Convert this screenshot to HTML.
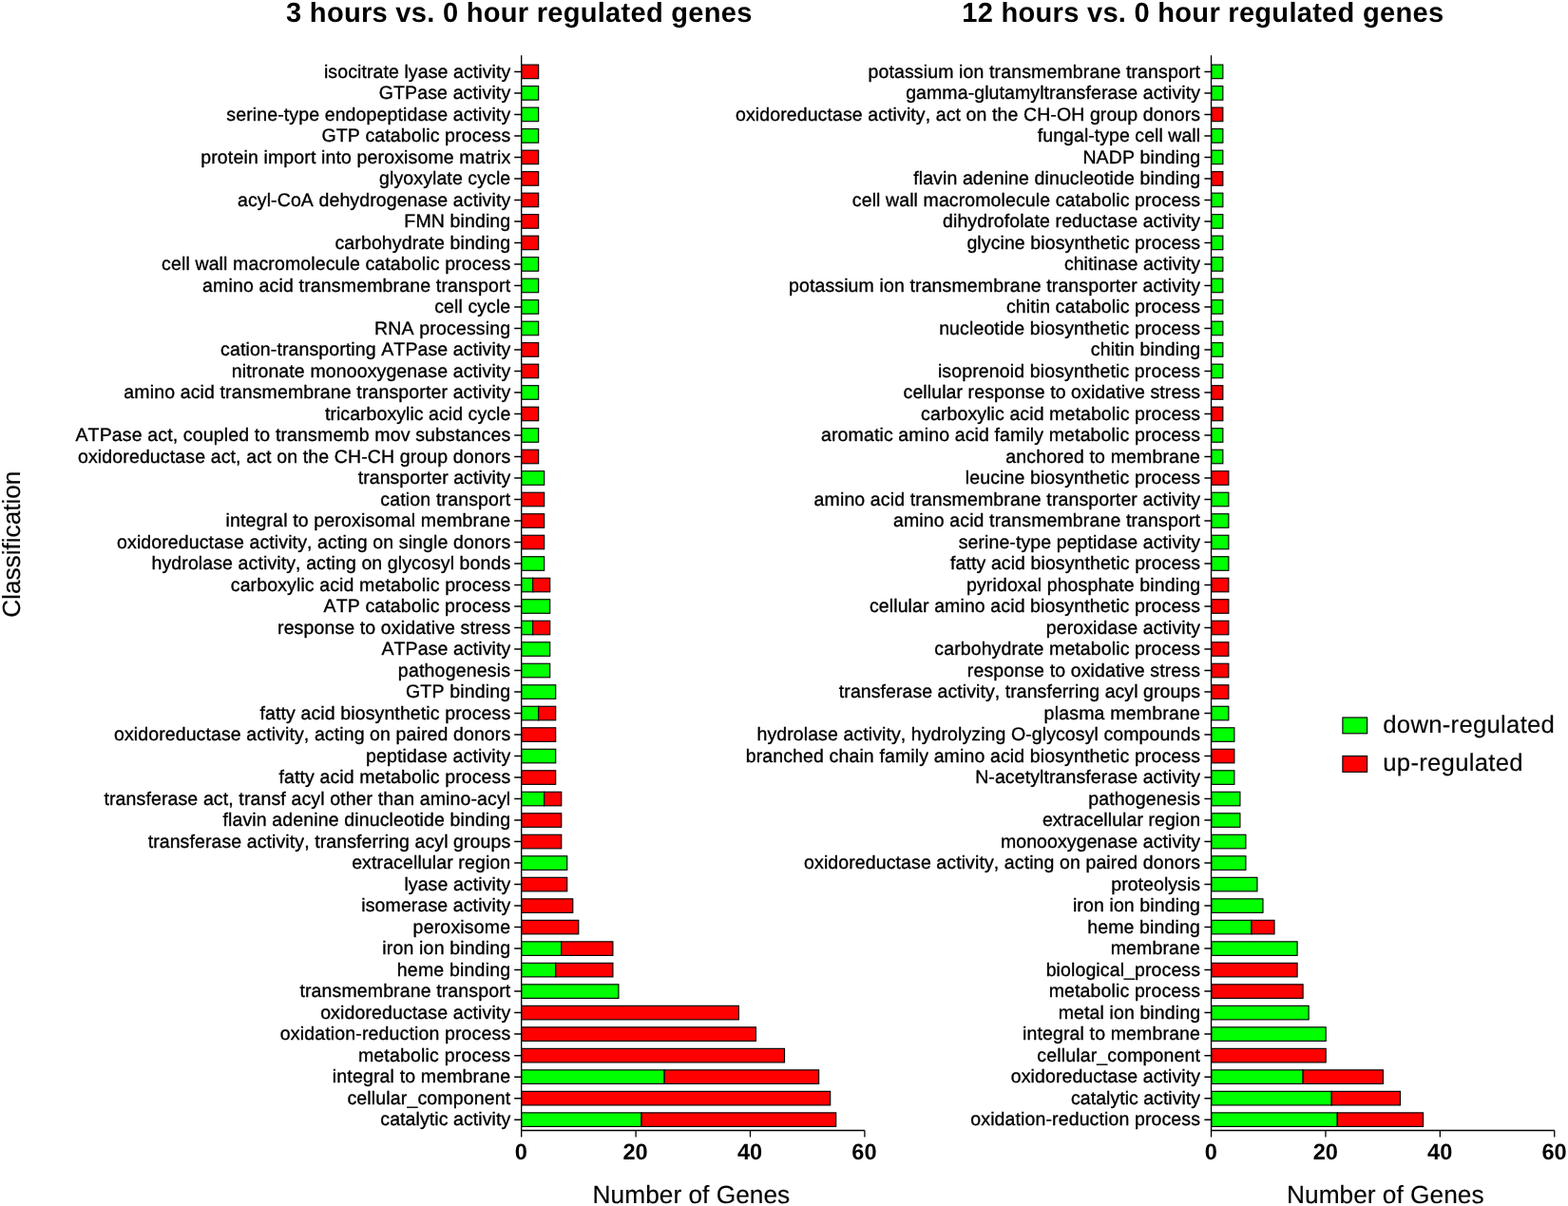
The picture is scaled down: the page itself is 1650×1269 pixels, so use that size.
<!DOCTYPE html>
<html lang="en">
<head>
<meta charset="utf-8">
<title>Regulated genes – GO classification</title>
<style>
html,body{margin:0;padding:0;background:#fff;}
body{width:1650px;height:1269px;overflow:hidden;font-family:"Liberation Sans",sans-serif;}
svg{display:block;position:absolute;left:0;top:0;filter:blur(0.4px);}
text{font-family:"Liberation Sans",sans-serif;fill:#000;font-kerning:none;text-rendering:geometricPrecision;}
.g{fill:#00ff00;stroke:#000;stroke-width:1.15;}
.r{fill:#ff0000;stroke:#000;stroke-width:1.15;}
.ax{fill:none;stroke:#000;stroke-width:1.3;}
.yt{fill:none;stroke:#000;stroke-width:1.5;}
.lab text{font-size:19.5px;text-anchor:end;letter-spacing:0.14px;stroke:#000;stroke-width:0.35px;}
.tk text{font-size:23.6px;font-weight:bold;text-anchor:middle;}
.title{font-size:29.1px;font-weight:bold;text-anchor:middle;letter-spacing:0.26px;}
.xl{font-size:26.3px;text-anchor:middle;stroke:#000;stroke-width:0.15px;}
.yl{font-size:26.2px;text-anchor:middle;stroke:#000;stroke-width:0.15px;}
.leg{font-size:25.7px;letter-spacing:0.27px;stroke:#000;stroke-width:0.15px;}
</style>
</head>
<body>
<svg width="1650" height="1269" viewBox="0 0 1650 1269">
<rect x="0" y="0" width="1650" height="1269" fill="#fff"/>
<text class="title" x="546.4" y="23.3">3 hours vs. 0 hour regulated genes</text>
<text class="title" x="1265.8" y="23.3">12 hours vs. 0 hour regulated genes</text>
<text class="yl" transform="translate(20.6 572.7) rotate(-90)">Classification</text>
<g id="left">
<rect class="r" x="548.6" y="68.12" width="18.06" height="14.55"/>
<rect class="g" x="548.6" y="90.63" width="18.06" height="14.55"/>
<rect class="g" x="548.6" y="113.13" width="18.06" height="14.55"/>
<rect class="g" x="548.6" y="135.64" width="18.06" height="14.55"/>
<rect class="r" x="548.6" y="158.15" width="18.06" height="14.55"/>
<rect class="r" x="548.6" y="180.65" width="18.06" height="14.55"/>
<rect class="r" x="548.6" y="203.16" width="18.06" height="14.55"/>
<rect class="r" x="548.6" y="225.66" width="18.06" height="14.55"/>
<rect class="r" x="548.6" y="248.16" width="18.06" height="14.55"/>
<rect class="g" x="548.6" y="270.67" width="18.06" height="14.55"/>
<rect class="g" x="548.6" y="293.18" width="18.06" height="14.55"/>
<rect class="g" x="548.6" y="315.68" width="18.06" height="14.55"/>
<rect class="g" x="548.6" y="338.19" width="18.06" height="14.55"/>
<rect class="r" x="548.6" y="360.69" width="18.06" height="14.55"/>
<rect class="r" x="548.6" y="383.2" width="18.06" height="14.55"/>
<rect class="g" x="548.6" y="405.7" width="18.06" height="14.55"/>
<rect class="r" x="548.6" y="428.21" width="18.06" height="14.55"/>
<rect class="g" x="548.6" y="450.71" width="18.06" height="14.55"/>
<rect class="r" x="548.6" y="473.22" width="18.06" height="14.55"/>
<rect class="g" x="548.6" y="495.72" width="24.08" height="14.55"/>
<rect class="r" x="548.6" y="518.23" width="24.08" height="14.55"/>
<rect class="r" x="548.6" y="540.73" width="24.08" height="14.55"/>
<rect class="r" x="548.6" y="563.24" width="24.08" height="14.55"/>
<rect class="g" x="548.6" y="585.74" width="24.08" height="14.55"/>
<rect class="g" x="548.6" y="608.25" width="12.04" height="14.55"/>
<rect class="r" x="560.64" y="608.25" width="18.06" height="14.55"/>
<rect class="g" x="548.6" y="630.75" width="30.1" height="14.55"/>
<rect class="g" x="548.6" y="653.25" width="12.04" height="14.55"/>
<rect class="r" x="560.64" y="653.25" width="18.06" height="14.55"/>
<rect class="g" x="548.6" y="675.76" width="30.1" height="14.55"/>
<rect class="g" x="548.6" y="698.26" width="30.1" height="14.55"/>
<rect class="g" x="548.6" y="720.77" width="36.12" height="14.55"/>
<rect class="g" x="548.6" y="743.27" width="18.06" height="14.55"/>
<rect class="r" x="566.66" y="743.27" width="18.06" height="14.55"/>
<rect class="r" x="548.6" y="765.78" width="36.12" height="14.55"/>
<rect class="g" x="548.6" y="788.28" width="36.12" height="14.55"/>
<rect class="r" x="548.6" y="810.79" width="36.12" height="14.55"/>
<rect class="g" x="548.6" y="833.29" width="24.08" height="14.55"/>
<rect class="r" x="572.68" y="833.29" width="18.06" height="14.55"/>
<rect class="r" x="548.6" y="855.8" width="42.14" height="14.55"/>
<rect class="r" x="548.6" y="878.3" width="42.14" height="14.55"/>
<rect class="g" x="548.6" y="900.81" width="48.16" height="14.55"/>
<rect class="r" x="548.6" y="923.31" width="48.16" height="14.55"/>
<rect class="r" x="548.6" y="945.82" width="54.18" height="14.55"/>
<rect class="r" x="548.6" y="968.32" width="60.2" height="14.55"/>
<rect class="g" x="548.6" y="990.83" width="42.14" height="14.55"/>
<rect class="r" x="590.74" y="990.83" width="54.18" height="14.55"/>
<rect class="g" x="548.6" y="1013.33" width="36.12" height="14.55"/>
<rect class="r" x="584.72" y="1013.33" width="60.2" height="14.55"/>
<rect class="g" x="548.6" y="1035.84" width="102.34" height="14.55"/>
<rect class="r" x="548.6" y="1058.34" width="228.76" height="14.55"/>
<rect class="r" x="548.6" y="1080.85" width="246.82" height="14.55"/>
<rect class="r" x="548.6" y="1103.36" width="276.92" height="14.55"/>
<rect class="g" x="548.6" y="1125.86" width="150.5" height="14.55"/>
<rect class="r" x="699.1" y="1125.86" width="162.54" height="14.55"/>
<rect class="r" x="548.6" y="1148.37" width="325.08" height="14.55"/>
<rect class="g" x="548.6" y="1170.87" width="126.42" height="14.55"/>
<rect class="r" x="675.02" y="1170.87" width="204.68" height="14.55"/>
<path class="ax" d="M548.7 58.3V1189.5H909.9M548.7 1189.5v7M669.1 1189.5v7M789.5 1189.5v7M909.9 1189.5v7"/>
<path class="yt" d="M541.2 75.4h7.3M541.2 97.91h7.3M541.2 120.41h7.3M541.2 142.92h7.3M541.2 165.42h7.3M541.2 187.93h7.3M541.2 210.43h7.3M541.2 232.94h7.3M541.2 255.44h7.3M541.2 277.94h7.3M541.2 300.45h7.3M541.2 322.95h7.3M541.2 345.46h7.3M541.2 367.97h7.3M541.2 390.47h7.3M541.2 412.98h7.3M541.2 435.48h7.3M541.2 457.99h7.3M541.2 480.49h7.3M541.2 503h7.3M541.2 525.5h7.3M541.2 548h7.3M541.2 570.51h7.3M541.2 593.01h7.3M541.2 615.52h7.3M541.2 638.02h7.3M541.2 660.53h7.3M541.2 683.03h7.3M541.2 705.54h7.3M541.2 728.04h7.3M541.2 750.55h7.3M541.2 773.05h7.3M541.2 795.56h7.3M541.2 818.06h7.3M541.2 840.57h7.3M541.2 863.07h7.3M541.2 885.58h7.3M541.2 908.08h7.3M541.2 930.59h7.3M541.2 953.09h7.3M541.2 975.6h7.3M541.2 998.1h7.3M541.2 1020.61h7.3M541.2 1043.12h7.3M541.2 1065.62h7.3M541.2 1088.12h7.3M541.2 1110.63h7.3M541.2 1133.13h7.3M541.2 1155.64h7.3M541.2 1178.14h7.3"/>
<g class="lab">
<text x="537.3" y="81.7" style="letter-spacing:0.095px">isocitrate lyase activity</text>
<text x="537.3" y="104.2" style="letter-spacing:0.131px">GTPase activity</text>
<text x="537.3" y="126.71" style="letter-spacing:0.121px">serine-type endopeptidase activity</text>
<text x="537.3" y="149.22" style="letter-spacing:0.13px">GTP catabolic process</text>
<text x="537.3" y="171.72" style="letter-spacing:0.142px">protein import into peroxisome matrix</text>
<text x="537.3" y="194.23" style="letter-spacing:0.101px">glyoxylate cycle</text>
<text x="537.3" y="216.73" style="letter-spacing:0.107px">acyl-CoA dehydrogenase activity</text>
<text x="537.3" y="239.24" style="letter-spacing:0.127px">FMN binding</text>
<text x="537.3" y="261.74" style="letter-spacing:0.138px">carbohydrate binding</text>
<text x="537.3" y="284.25" style="letter-spacing:0.127px">cell wall macromolecule catabolic process</text>
<text x="537.3" y="306.75" style="letter-spacing:0.163px">amino acid transmembrane transport</text>
<text x="537.3" y="329.25" style="letter-spacing:0.096px">cell cycle</text>
<text x="537.3" y="351.76" style="letter-spacing:0.172px">RNA processing</text>
<text x="537.3" y="374.27" style="letter-spacing:0.111px">cation-transporting ATPase activity</text>
<text x="537.3" y="396.77" style="letter-spacing:0.127px">nitronate monooxygenase activity</text>
<text x="537.3" y="419.28" style="letter-spacing:0.132px">amino acid transmembrane transporter activity</text>
<text x="537.3" y="441.78" style="letter-spacing:0.058px">tricarboxylic acid cycle</text>
<text x="537.3" y="464.29" style="letter-spacing:0.148px">ATPase act, coupled to transmemb mov substances</text>
<text x="537.3" y="486.79" style="letter-spacing:0.134px">oxidoreductase act, act on the CH-CH group donors</text>
<text x="537.3" y="509.3" style="letter-spacing:0.064px">transporter activity</text>
<text x="537.3" y="531.8" style="letter-spacing:0.161px">cation transport</text>
<text x="537.3" y="554.3" style="letter-spacing:0.159px">integral to peroxisomal membrane</text>
<text x="537.3" y="576.81" style="letter-spacing:0.116px">oxidoreductase activity, acting on single donors</text>
<text x="537.3" y="599.31" style="letter-spacing:0.112px">hydrolase activity, acting on glycosyl bonds</text>
<text x="537.3" y="621.82" style="letter-spacing:0.123px">carboxylic acid metabolic process</text>
<text x="537.3" y="644.32" style="letter-spacing:0.13px">ATP catabolic process</text>
<text x="537.3" y="666.83" style="letter-spacing:0.127px">response to oxidative stress</text>
<text x="537.3" y="689.33" style="letter-spacing:0.094px">ATPase activity</text>
<text x="537.3" y="711.84" style="letter-spacing:0.204px">pathogenesis</text>
<text x="537.3" y="734.34" style="letter-spacing:0.176px">GTP binding</text>
<text x="537.3" y="756.85" style="letter-spacing:0.116px">fatty acid biosynthetic process</text>
<text x="537.3" y="779.35" style="letter-spacing:0.113px">oxidoreductase activity, acting on paired donors</text>
<text x="537.3" y="801.86" style="letter-spacing:0.148px">peptidase activity</text>
<text x="537.3" y="824.36" style="letter-spacing:0.112px">fatty acid metabolic process</text>
<text x="537.3" y="846.87" style="letter-spacing:0.125px">transferase act, transf acyl other than amino-acyl</text>
<text x="537.3" y="869.37" style="letter-spacing:0.133px">flavin adenine dinucleotide binding</text>
<text x="537.3" y="891.88" style="letter-spacing:0.098px">transferase activity, transferring acyl groups</text>
<text x="537.3" y="914.38" style="letter-spacing:0.12px">extracellular region</text>
<text x="537.3" y="936.89" style="letter-spacing:0.099px">lyase activity</text>
<text x="537.3" y="959.39" style="letter-spacing:0.114px">isomerase activity</text>
<text x="537.3" y="981.9" style="letter-spacing:0.19px">peroxisome</text>
<text x="537.3" y="1004.4" style="letter-spacing:0.168px">iron ion binding</text>
<text x="537.3" y="1026.91" style="letter-spacing:0.202px">heme binding</text>
<text x="537.3" y="1049.41" style="letter-spacing:0.128px">transmembrane transport</text>
<text x="537.3" y="1071.92" style="letter-spacing:0.125px">oxidoreductase activity</text>
<text x="537.3" y="1094.42" style="letter-spacing:0.147px">oxidation-reduction process</text>
<text x="537.3" y="1116.93" style="letter-spacing:0.191px">metabolic process</text>
<text x="537.3" y="1139.43" style="letter-spacing:0.16px">integral to membrane</text>
<text x="537.3" y="1161.94" style="letter-spacing:0.154px">cellular_component</text>
<text x="537.3" y="1184.44" style="letter-spacing:0.085px">catalytic activity</text>
</g>
<g class="tk">
<text x="548.2" y="1220">0</text>
<text x="668.6" y="1220">20</text>
<text x="789" y="1220">40</text>
<text x="909.4" y="1220">60</text>
</g>
</g>
<g id="right">
<rect class="g" x="1274.8" y="68.12" width="12.04" height="14.55"/>
<rect class="g" x="1274.8" y="90.63" width="12.04" height="14.55"/>
<rect class="r" x="1274.8" y="113.13" width="12.04" height="14.55"/>
<rect class="g" x="1274.8" y="135.64" width="12.04" height="14.55"/>
<rect class="g" x="1274.8" y="158.15" width="12.04" height="14.55"/>
<rect class="r" x="1274.8" y="180.65" width="12.04" height="14.55"/>
<rect class="g" x="1274.8" y="203.16" width="12.04" height="14.55"/>
<rect class="g" x="1274.8" y="225.66" width="12.04" height="14.55"/>
<rect class="g" x="1274.8" y="248.16" width="12.04" height="14.55"/>
<rect class="g" x="1274.8" y="270.67" width="12.04" height="14.55"/>
<rect class="g" x="1274.8" y="293.18" width="12.04" height="14.55"/>
<rect class="g" x="1274.8" y="315.68" width="12.04" height="14.55"/>
<rect class="g" x="1274.8" y="338.19" width="12.04" height="14.55"/>
<rect class="g" x="1274.8" y="360.69" width="12.04" height="14.55"/>
<rect class="g" x="1274.8" y="383.2" width="12.04" height="14.55"/>
<rect class="r" x="1274.8" y="405.7" width="12.04" height="14.55"/>
<rect class="r" x="1274.8" y="428.21" width="12.04" height="14.55"/>
<rect class="g" x="1274.8" y="450.71" width="12.04" height="14.55"/>
<rect class="g" x="1274.8" y="473.22" width="12.04" height="14.55"/>
<rect class="r" x="1274.8" y="495.72" width="18.06" height="14.55"/>
<rect class="g" x="1274.8" y="518.23" width="18.06" height="14.55"/>
<rect class="g" x="1274.8" y="540.73" width="18.06" height="14.55"/>
<rect class="g" x="1274.8" y="563.24" width="18.06" height="14.55"/>
<rect class="g" x="1274.8" y="585.74" width="18.06" height="14.55"/>
<rect class="r" x="1274.8" y="608.25" width="18.06" height="14.55"/>
<rect class="r" x="1274.8" y="630.75" width="18.06" height="14.55"/>
<rect class="r" x="1274.8" y="653.25" width="18.06" height="14.55"/>
<rect class="r" x="1274.8" y="675.76" width="18.06" height="14.55"/>
<rect class="r" x="1274.8" y="698.26" width="18.06" height="14.55"/>
<rect class="r" x="1274.8" y="720.77" width="18.06" height="14.55"/>
<rect class="g" x="1274.8" y="743.27" width="18.06" height="14.55"/>
<rect class="g" x="1274.8" y="765.78" width="24.08" height="14.55"/>
<rect class="r" x="1274.8" y="788.28" width="24.08" height="14.55"/>
<rect class="g" x="1274.8" y="810.79" width="24.08" height="14.55"/>
<rect class="g" x="1274.8" y="833.29" width="30.1" height="14.55"/>
<rect class="g" x="1274.8" y="855.8" width="30.1" height="14.55"/>
<rect class="g" x="1274.8" y="878.3" width="36.12" height="14.55"/>
<rect class="g" x="1274.8" y="900.81" width="36.12" height="14.55"/>
<rect class="g" x="1274.8" y="923.31" width="48.16" height="14.55"/>
<rect class="g" x="1274.8" y="945.82" width="54.18" height="14.55"/>
<rect class="g" x="1274.8" y="968.32" width="42.14" height="14.55"/>
<rect class="r" x="1316.94" y="968.32" width="24.08" height="14.55"/>
<rect class="g" x="1274.8" y="990.83" width="90.3" height="14.55"/>
<rect class="r" x="1274.8" y="1013.33" width="90.3" height="14.55"/>
<rect class="r" x="1274.8" y="1035.84" width="96.32" height="14.55"/>
<rect class="g" x="1274.8" y="1058.34" width="102.34" height="14.55"/>
<rect class="g" x="1274.8" y="1080.85" width="120.4" height="14.55"/>
<rect class="r" x="1274.8" y="1103.36" width="120.4" height="14.55"/>
<rect class="g" x="1274.8" y="1125.86" width="96.32" height="14.55"/>
<rect class="r" x="1371.12" y="1125.86" width="84.28" height="14.55"/>
<rect class="g" x="1274.8" y="1148.37" width="126.42" height="14.55"/>
<rect class="r" x="1401.22" y="1148.37" width="72.24" height="14.55"/>
<rect class="g" x="1274.8" y="1170.87" width="132.44" height="14.55"/>
<rect class="r" x="1407.24" y="1170.87" width="90.3" height="14.55"/>
<path class="ax" d="M1274.55 58.3V1189.5H1635.75M1274.55 1189.5v7M1394.95 1189.5v7M1515.35 1189.5v7M1635.75 1189.5v7"/>
<path class="yt" d="M1267.4 75.4h7.3M1267.4 97.91h7.3M1267.4 120.41h7.3M1267.4 142.92h7.3M1267.4 165.42h7.3M1267.4 187.93h7.3M1267.4 210.43h7.3M1267.4 232.94h7.3M1267.4 255.44h7.3M1267.4 277.94h7.3M1267.4 300.45h7.3M1267.4 322.95h7.3M1267.4 345.46h7.3M1267.4 367.97h7.3M1267.4 390.47h7.3M1267.4 412.98h7.3M1267.4 435.48h7.3M1267.4 457.99h7.3M1267.4 480.49h7.3M1267.4 503h7.3M1267.4 525.5h7.3M1267.4 548h7.3M1267.4 570.51h7.3M1267.4 593.01h7.3M1267.4 615.52h7.3M1267.4 638.02h7.3M1267.4 660.53h7.3M1267.4 683.03h7.3M1267.4 705.54h7.3M1267.4 728.04h7.3M1267.4 750.55h7.3M1267.4 773.05h7.3M1267.4 795.56h7.3M1267.4 818.06h7.3M1267.4 840.57h7.3M1267.4 863.07h7.3M1267.4 885.58h7.3M1267.4 908.08h7.3M1267.4 930.59h7.3M1267.4 953.09h7.3M1267.4 975.6h7.3M1267.4 998.1h7.3M1267.4 1020.61h7.3M1267.4 1043.12h7.3M1267.4 1065.62h7.3M1267.4 1088.12h7.3M1267.4 1110.63h7.3M1267.4 1133.13h7.3M1267.4 1155.64h7.3M1267.4 1178.14h7.3"/>
<g class="lab">
<text x="1263.1" y="81.7" style="letter-spacing:0.135px">potassium ion transmembrane transport</text>
<text x="1263.1" y="104.2" style="letter-spacing:0.096px">gamma-glutamyltransferase activity</text>
<text x="1263.1" y="126.71" style="letter-spacing:0.105px">oxidoreductase activity, act on the CH-OH group donors</text>
<text x="1263.1" y="149.22" style="letter-spacing:0.052px">fungal-type cell wall</text>
<text x="1263.1" y="171.72" style="letter-spacing:0.1px">NADP binding</text>
<text x="1263.1" y="194.23" style="letter-spacing:0.107px">flavin adenine dinucleotide binding</text>
<text x="1263.1" y="216.73" style="letter-spacing:0.104px">cell wall macromolecule catabolic process</text>
<text x="1263.1" y="239.24" style="letter-spacing:0.105px">dihydrofolate reductase activity</text>
<text x="1263.1" y="261.74" style="letter-spacing:0.104px">glycine biosynthetic process</text>
<text x="1263.1" y="284.25" style="letter-spacing:0.069px">chitinase activity</text>
<text x="1263.1" y="306.75" style="letter-spacing:0.128px">potassium ion transmembrane transporter activity</text>
<text x="1263.1" y="329.25" style="letter-spacing:0.106px">chitin catabolic process</text>
<text x="1263.1" y="351.76" style="letter-spacing:0.128px">nucleotide biosynthetic process</text>
<text x="1263.1" y="374.27" style="letter-spacing:0.102px">chitin binding</text>
<text x="1263.1" y="396.77" style="letter-spacing:0.133px">isoprenoid biosynthetic process</text>
<text x="1263.1" y="419.28" style="letter-spacing:0.099px">cellular response to oxidative stress</text>
<text x="1263.1" y="441.78" style="letter-spacing:0.107px">carboxylic acid metabolic process</text>
<text x="1263.1" y="464.29" style="letter-spacing:0.129px">aromatic amino acid family metabolic process</text>
<text x="1263.1" y="486.79" style="letter-spacing:0.156px">anchored to membrane</text>
<text x="1263.1" y="509.3" style="letter-spacing:0.124px">leucine biosynthetic process</text>
<text x="1263.1" y="531.8" style="letter-spacing:0.122px">amino acid transmembrane transporter activity</text>
<text x="1263.1" y="554.3" style="letter-spacing:0.132px">amino acid transmembrane transport</text>
<text x="1263.1" y="576.81" style="letter-spacing:0.099px">serine-type peptidase activity</text>
<text x="1263.1" y="599.31" style="letter-spacing:0.093px">fatty acid biosynthetic process</text>
<text x="1263.1" y="621.82" style="letter-spacing:0.119px">pyridoxal phosphate binding</text>
<text x="1263.1" y="644.32" style="letter-spacing:0.115px">cellular amino acid biosynthetic process</text>
<text x="1263.1" y="666.83" style="letter-spacing:0.099px">peroxidase activity</text>
<text x="1263.1" y="689.33" style="letter-spacing:0.113px">carbohydrate metabolic process</text>
<text x="1263.1" y="711.84" style="letter-spacing:0.126px">response to oxidative stress</text>
<text x="1263.1" y="734.34" style="letter-spacing:0.067px">transferase activity, transferring acyl groups</text>
<text x="1263.1" y="756.85" style="letter-spacing:0.201px">plasma membrane</text>
<text x="1263.1" y="779.35" style="letter-spacing:0.094px">hydrolase activity, hydrolyzing O-glycosyl compounds</text>
<text x="1263.1" y="801.86" style="letter-spacing:0.131px">branched chain family amino acid biosynthetic process</text>
<text x="1263.1" y="824.36" style="letter-spacing:0.103px">N-acetyltransferase activity</text>
<text x="1263.1" y="846.87" style="letter-spacing:0.156px">pathogenesis</text>
<text x="1263.1" y="869.37" style="letter-spacing:0.073px">extracellular region</text>
<text x="1263.1" y="891.88" style="letter-spacing:0.094px">monooxygenase activity</text>
<text x="1263.1" y="914.38" style="letter-spacing:0.106px">oxidoreductase activity, acting on paired donors</text>
<text x="1263.1" y="936.89" style="letter-spacing:0.057px">proteolysis</text>
<text x="1263.1" y="959.39" style="letter-spacing:0.119px">iron ion binding</text>
<text x="1263.1" y="981.9" style="letter-spacing:0.156px">heme binding</text>
<text x="1263.1" y="1004.4" style="letter-spacing:0.143px">membrane</text>
<text x="1263.1" y="1026.91" style="letter-spacing:0.111px">biological_process</text>
<text x="1263.1" y="1049.41" style="letter-spacing:0.132px">metabolic process</text>
<text x="1263.1" y="1071.92" style="letter-spacing:0.114px">metal ion binding</text>
<text x="1263.1" y="1094.42" style="letter-spacing:0.144px">integral to membrane</text>
<text x="1263.1" y="1116.93" style="letter-spacing:0.148px">cellular_component</text>
<text x="1263.1" y="1139.43" style="letter-spacing:0.086px">oxidoreductase activity</text>
<text x="1263.1" y="1161.94" style="letter-spacing:0.031px">catalytic activity</text>
<text x="1263.1" y="1184.44" style="letter-spacing:0.123px">oxidation-reduction process</text>
</g>
<g class="tk">
<text x="1274.4" y="1220">0</text>
<text x="1394.8" y="1220">20</text>
<text x="1515.2" y="1220">40</text>
<text x="1635.6" y="1220">60</text>
</g>
</g>
<text class="xl" x="727.4" y="1266">Number of Genes</text>
<text class="xl" x="1457.8" y="1266">Number of Genes</text>
<rect class="g" x="1412.9" y="755" width="25.7" height="16.8"/>
<rect class="r" x="1412.9" y="795.5" width="25.7" height="16.8"/>
<text class="leg" x="1455.3" y="770.8">down-regulated</text>
<text class="leg" x="1455.3" y="811.2">up-regulated</text>
</svg>
</body>
</html>
